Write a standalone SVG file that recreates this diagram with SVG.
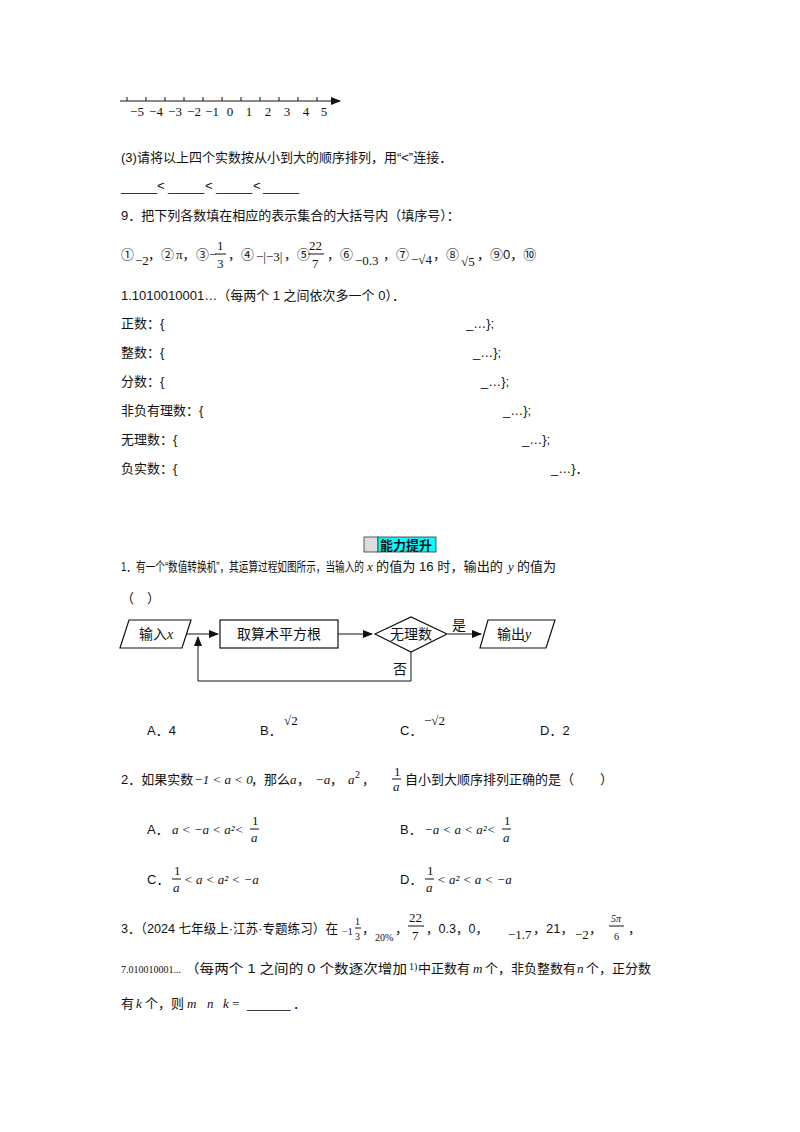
<svg xmlns="http://www.w3.org/2000/svg" width="800" height="1132" viewBox="0 0 800 1132">
<defs>
<style>
.t{font-family:"Liberation Sans","Noto Sans CJK SC",sans-serif;font-size:13px;fill:#111}
.m{font-family:"Liberation Serif","Noto Sans CJK SC",serif;font-size:13px;fill:#111}
.s{font-family:"Liberation Serif","Noto Sans CJK SC",serif;font-size:10px;fill:#111}
.f{font-family:"Liberation Serif","Noto Sans CJK SC",serif;font-size:14px;fill:#111}
.ln{stroke:#111;stroke-width:1;fill:none}
.nd{stroke:#111;stroke-width:1.2;fill:#fff}
</style>
<marker id="ar" markerWidth="10" markerHeight="8" refX="9" refY="4" orient="auto" markerUnits="userSpaceOnUse"><path d="M0,0L10,4L0,8z" fill="#111"/></marker>
</defs>
<rect width="800" height="1132" fill="#fff"/>
<g id="numberline">
<line class="ln" x1="120" y1="101" x2="340" y2="101" marker-end="url(#ar)"/>
<path class="ln" d="M127,97v4M146,97v4M165,97v4M184,97v4M203,97v4M222,97v4M241,97v4M260,97v4M279,97v4M298,97v4M317,97v4"/>
<g class="m" font-size="14" text-anchor="middle">
<text x="137" y="116">−5</text><text x="156" y="116">−4</text><text x="175" y="116">−3</text><text x="194" y="116">−2</text><text x="212" y="116">−1</text>
<text x="230" y="116">0</text><text x="249" y="116">1</text><text x="268" y="116">2</text><text x="287" y="116">3</text><text x="306" y="116">4</text><text x="324" y="116">5</text>
</g>
</g>
<text class="t" x="121" y="162">(3)请将以上四个实数按从小到大的顺序排列，用“&lt;”连接．</text>
<g class="t">
<text x="121" y="191">_____</text><text x="157" y="190">&lt;</text><text x="168" y="191">_____</text><text x="205" y="190">&lt;</text><text x="216" y="191">_____</text><text x="253" y="190">&lt;</text><text x="263" y="191">_____</text>
</g>
<text class="t" x="121" y="220">9．把下列各数填在相应的表示集合的大括号内（填序号）：</text>
<g class="t">
<text x="121" y="259">①</text><text class="m" x="135" y="265">−2</text><text x="148" y="259">，②</text><text class="m" x="176" y="259">π，</text>
<text x="196" y="259">③</text><text class="m" x="209" y="259">−</text>
<text class="m" x="217" y="250">1</text><line class="ln" x1="215" y1="254" x2="226" y2="254"/><text class="m" x="217" y="268">3</text>
<text x="228" y="259">，④</text><text class="m" x="256" y="261">−|−3|</text><text x="284" y="259">，⑤</text>
<text class="m" x="309" y="250">22</text><line class="ln" x1="308" y1="254" x2="324" y2="254"/><text class="m" x="312" y="268">7</text>
<text x="327" y="259">，⑥</text><text class="m" x="355" y="265">−0.3</text><text x="383" y="259">，⑦</text>
<text class="m" x="411" y="264">−√4</text><text x="433" y="259">，⑧</text><text class="m" x="461" y="266">√5</text>
<text x="477" y="259">，⑨0，⑩</text>
</g>
<text class="t" x="121" y="300">1.1010010001…（每两个 1 之间依次多一个 0）．</text>
<text class="t" x="121" y="328">正数：{</text><text class="t" x="466" y="328">_…};</text>
<text class="t" x="121" y="357">整数：{</text><text class="t" x="473" y="357">_…};</text>
<text class="t" x="121" y="386">分数：{</text><text class="t" x="481" y="386">_…};</text>
<text class="t" x="121" y="415">非负有理数：{</text><text class="t" x="503" y="415">_…};</text>
<text class="t" x="121" y="444">无理数：{</text><text class="t" x="522" y="444">_…};</text>
<text class="t" x="121" y="473">负实数：{</text><text class="t" x="551" y="473">_…}．</text>
<rect x="364" y="537" width="14" height="15" fill="#ddd" stroke="#333" stroke-width="0.8"/>
<rect x="378" y="537" width="58" height="15" fill="#00ffff" stroke="#333" stroke-width="0.8"/>
<text x="380" y="550" font-family="Noto Sans CJK SC,sans-serif" font-size="13" font-weight="bold" fill="#111">能力提升</text>
<text class="t" x="121" y="571" textLength="243" lengthAdjust="spacingAndGlyphs">1．有一个“数值转换机”，其运算过程如图所示，当输入的</text>
<text class="m" x="367" y="571" font-style="italic">x</text>
<text class="t" x="376" y="571" textLength="127" lengthAdjust="spacingAndGlyphs">的值为 16 时，输出的</text>
<text class="m" x="508" y="571" font-style="italic">y</text>
<text class="t" x="517" y="571">的值为</text>
<text class="t" x="121" y="603">（</text><text class="t" x="147" y="603">）</text>
<g id="connectors">
<line class="ln" x1="187" y1="634" x2="218" y2="634" marker-end="url(#ar)"/>
<line class="ln" x1="338" y1="634" x2="372" y2="634" marker-end="url(#ar)"/>
<line class="ln" x1="448" y1="634" x2="481" y2="634" marker-end="url(#ar)"/>
<polyline class="ln" points="411,652 411,681 198,681 198,637" marker-end="url(#ar)"/>
<text class="f" x="452" y="630" font-size="13">是</text>
<text class="f" x="393" y="674">否</text>
</g>
<g id="input"><polygon class="nd" points="129,620 191,620 182,648 120,648"/><text class="f" x="139" y="639">输入<tspan font-style="italic">x</tspan></text></g>
<g id="sqrt"><rect class="nd" x="220" y="620" width="118" height="28"/><text class="f" x="237" y="639">取算术平方根</text></g>
<g id="irr"><polygon class="nd" points="375,634 411,617 447,634 411,652"/><text class="f" x="390" y="639">无理数</text></g>
<g id="output"><polygon class="nd" points="488,620 555,620 546,648 480,648"/><text class="f" x="497" y="639">输出<tspan font-style="italic">y</tspan></text></g>
<text class="t" x="147" y="735">A．4</text>
<text class="t" x="260" y="735">B．</text><text class="m" x="284" y="725">√2</text>
<text class="t" x="400" y="735">C．</text><text class="m" x="424" y="725">−√2</text>
<text class="t" x="540" y="735">D．2</text>
<text class="t" x="121" y="784">2．如果实数</text>
<text class="m" x="194" y="784" font-style="italic">−1 &lt; a &lt; 0</text>
<text class="t" x="251" y="784">，那么</text>
<text class="m" x="290" y="784" font-style="italic">a</text><text class="t" x="297" y="784">，</text>
<text class="m" x="315" y="784" font-style="italic">−a</text><text class="t" x="330" y="784">，</text>
<text class="m" x="348" y="784" font-style="italic">a</text><text class="s" x="355" y="778">2</text><text class="t" x="362" y="784">，</text>
<text class="m" x="394" y="776">1</text><line class="ln" x1="392" y1="779" x2="401" y2="779"/><text class="m" x="393" y="791" font-style="italic">a</text>
<text class="t" x="405" y="784">自小到大顺序排列正确的是（　　）</text>
<text class="t" x="147" y="834">A．</text><text class="m" x="172" y="834" font-style="italic">a &lt; −a &lt; a²&lt;</text>
<text class="m" x="252" y="825">1</text><line class="ln" x1="250" y1="829" x2="259" y2="829"/><text class="m" x="251" y="842" font-style="italic">a</text>
<text class="t" x="400" y="834">B．</text><text class="m" x="424" y="834" font-style="italic">−a &lt; a &lt; a²&lt;</text>
<text class="m" x="504" y="825">1</text><line class="ln" x1="502" y1="829" x2="511" y2="829"/><text class="m" x="503" y="842" font-style="italic">a</text>
<text class="t" x="147" y="884">C．</text>
<text class="m" x="174" y="875">1</text><line class="ln" x1="172" y1="879" x2="181" y2="879"/><text class="m" x="173" y="892" font-style="italic">a</text>
<text class="m" x="184" y="884" font-style="italic">&lt; a &lt; a² &lt; −a</text>
<text class="t" x="400" y="884">D．</text>
<text class="m" x="427" y="875">1</text><line class="ln" x1="425" y1="879" x2="434" y2="879"/><text class="m" x="426" y="892" font-style="italic">a</text>
<text class="m" x="437" y="884" font-style="italic">&lt; a² &lt; a &lt; −a</text>
<g class="t">
<text x="121" y="933" textLength="217" lengthAdjust="spacingAndGlyphs">3．（2024 七年级上·江苏·专题练习）在</text>
<text class="s" x="342" y="935">−1</text><text class="s" x="355" y="925">1</text><line class="ln" x1="355" y1="928" x2="361" y2="928"/><text class="s" x="355" y="940">3</text>
<text x="362" y="933">，</text><text class="s" x="375" y="941">20%</text><text x="395" y="933">，</text>
<text class="m" x="409" y="922">22</text><line class="ln" x1="408" y1="926" x2="424" y2="926"/><text class="m" x="412" y="940">7</text>
<text x="426" y="933" textLength="62" lengthAdjust="spacingAndGlyphs">，0.3，0，</text><text class="m" x="508" y="939">−1.7</text><text x="533" y="933">，21，</text>
<text class="m" x="575" y="939">−2</text><text x="589" y="933">，</text>
<text class="s" x="611" y="922" font-style="italic">5π</text><line class="ln" x1="609" y1="926" x2="624" y2="926"/><text class="s" x="614" y="940">6</text><text x="628" y="933">，</text>
<text class="s" x="121" y="973">7.010010001...</text>
<text x="185" y="973" textLength="222" lengthAdjust="spacingAndGlyphs">（每两个 1 之间的 0 个数逐次增加</text>
<text class="s" x="409" y="970">1)</text>
<text x="418" y="973">中正数有</text><text class="m" x="473" y="973" font-style="italic">m</text>
<text x="485" y="973">个，非负整数有</text><text class="m" x="577" y="973" font-style="italic">n</text>
<text x="586" y="973">个，正分数</text>
<text x="121" y="1008">有</text><text class="m" x="136" y="1008" font-style="italic">k</text>
<text x="145" y="1008">个，则</text>
<text class="m" x="187" y="1008" font-style="italic">m</text><text class="m" x="207" y="1008" font-style="italic">n</text><text class="m" x="223" y="1008" font-style="italic">k</text><text class="m" x="232" y="1008">=</text>
<text x="247" y="1008">______</text><text x="293" y="1008">．</text>
</g>
</svg>
